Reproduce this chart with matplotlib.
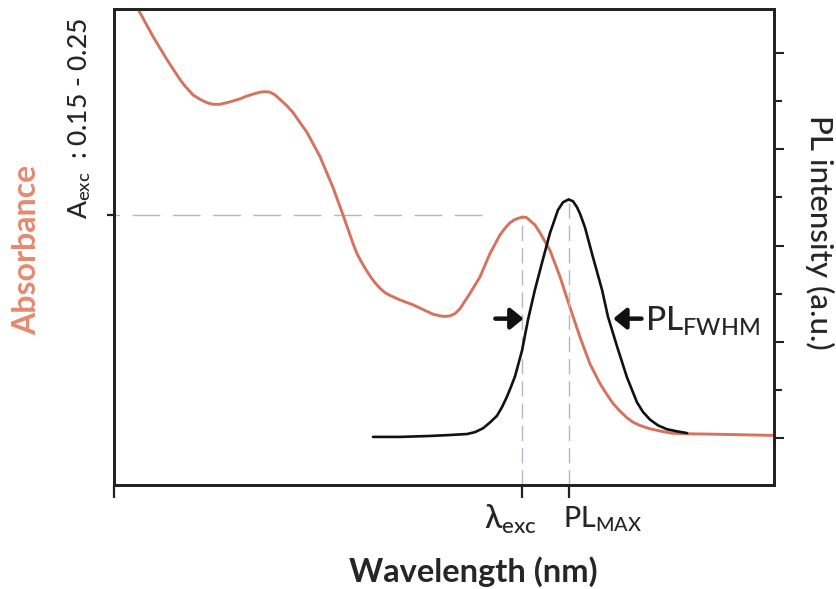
import matplotlib
matplotlib.use('Agg')
import matplotlib.pyplot as plt
import numpy as np
from matplotlib.ticker import MultipleLocator, NullFormatter, FixedLocator

plt.rcParams['font.family'] = ['Lato', 'DejaVu Sans']
plt.rcParams['mathtext.fontset'] = 'custom'
plt.rcParams['mathtext.rm'] = 'Lato:medium'
plt.rcParams['mathtext.it'] = 'Lato:italic'
plt.rcParams['mathtext.bf'] = 'Lato:bold'
plt.rcParams['mathtext.fallback'] = 'stixsans'

# ---------------- data ----------------
abs_wl = [375.3, 384.9, 393.8, 402.1, 405.3, 410.4, 414.9, 419.3, 423.2, 427.6,
          432.1, 435.9, 440.4, 444.8, 449.3, 453.1, 456.3, 459.5, 462.7, 465.9,
          470.4, 474.2, 483.1, 491.4, 499.7, 506.1, 512.5, 515.0, 518.2, 520.7,
          523.9, 526.5, 529.7, 532.9, 536.1, 539.2, 542.4, 550.7, 559.7, 563.5,
          567.9, 571.1, 574.3, 577.5, 580.7, 587.1, 593.5, 599.8, 606.2, 609.4,
          612.6, 615.8, 620.0, 622.8, 625.4, 628.5, 631.7, 638.1, 644.5, 650.9,
          657.3, 663.6, 670.0, 674.5, 678.3, 682.8, 687.2, 691.1, 695.5, 701.9,
          708.3, 715.9, 725.5, 746.6, 781.0]
abs_val = [0.387, 0.362, 0.341, 0.323, 0.317, 0.309, 0.305, 0.302, 0.3005, 0.3005,
           0.302, 0.3035, 0.3055, 0.308, 0.310, 0.3115, 0.312, 0.3115, 0.309, 0.305,
           0.299, 0.293, 0.275, 0.253, 0.225, 0.200, 0.174, 0.165, 0.1565, 0.1505,
           0.1435, 0.1385, 0.1335, 0.1295, 0.127, 0.125, 0.123, 0.1185, 0.1125, 0.110,
           0.1085, 0.108, 0.1085, 0.1105, 0.115, 0.129, 0.144, 0.165, 0.182, 0.188,
           0.193, 0.196, 0.198, 0.198, 0.195, 0.191, 0.184, 0.168, 0.144, 0.116,
           0.089, 0.065, 0.047, 0.037, 0.029, 0.022, 0.016, 0.012, 0.009, 0.006,
           0.004, 0.002, 0.0015, 0.001, 0.000]

pl_wl = [525.2, 542.4, 561.6, 574.3, 585.2, 590.3, 595.4, 599.8, 604.3, 607.5,
         610.7, 613.2, 615.8, 620.3, 624.1, 628.5, 633.0, 638.1, 643.2, 646.4,
         650.0, 652.8, 655.3, 657.3, 660.4, 665.5, 671.3, 675.1, 680.9, 687.2,
         693.6, 697.4, 701.9, 707.0, 712.7, 718.5, 725.5]
pl_val = [0.01, 0.01, 0.02, 0.03, 0.04, 0.06, 0.10, 0.16, 0.23, 0.32,
          0.43, 0.53, 0.64, 0.91, 1.23, 1.54, 1.82, 2.13, 2.37, 2.45,
          2.48, 2.46, 2.40, 2.33, 2.19, 1.88, 1.54, 1.26, 0.95, 0.63,
          0.37, 0.27, 0.19, 0.13, 0.09, 0.07, 0.05]

lambda_exc = 620.0
pl_max_wl = 650.0
a_exc = 0.2

x_range = (360, 781)
abs_range = (-0.045, 0.387)
pl_range = (-0.49, 4.46)

# ---------------- styling ----------------
W, H = 836, 589
ORANGE = '#d6735f'
ORANGE_TXT = '#e58a70'
DARK = '#262626'
DASH = '#b4b7c6'
MED = 500

fig = plt.figure(figsize=(W / 100, H / 100), dpi=100)
fig.patch.set_facecolor('white')
ax = fig.add_axes([114 / W, 1 - 485 / H, 660 / W, 476 / H])
ax2 = ax.twinx()

ax.set_xlim(*x_range)
ax.set_ylim(*abs_range)
ax2.set_ylim(*pl_range)

# curves
ax.plot(abs_wl, abs_val, color=ORANGE, lw=2.1, solid_capstyle='round',
        solid_joinstyle='round', zorder=3)
ax2.plot(pl_wl, pl_val, color='#111111', lw=1.9, solid_capstyle='round',
         solid_joinstyle='round', zorder=3)

# dashed guide lines
ax.plot([x_range[0], 600], [a_exc, a_exc], color=DASH, lw=1.0,
        linestyle=(-13, (20, 9)))
ax.plot([lambda_exc, lambda_exc], [abs_range[0], a_exc], color=DASH, lw=1.0,
        linestyle=(0, (11, 5)))
pl_peak = max(pl_val)
ax2.plot([pl_max_wl, pl_max_wl], [pl_range[0], pl_peak], color=DASH, lw=1.0,
         linestyle=(0, (11, 5)))

# FWHM arrows
half = pl_peak / 2
ipk = int(np.argmax(pl_val))
left_cross = np.interp(half, pl_val[:ipk + 1], pl_wl[:ipk + 1])
right_cross = np.interp(half, pl_val[ipk:][::-1], pl_wl[ipk:][::-1])
gap, alen = 3.0, 18.0
aprops = dict(arrowstyle='-|>,head_length=0.55,head_width=0.45', lw=3.2,
              color='#111111', mutation_scale=14, shrinkA=0, shrinkB=0)
ax2.annotate('', xy=(left_cross - gap, half), xytext=(left_cross - gap - alen, half),
             arrowprops=aprops)
ax2.annotate('', xy=(right_cross + gap, half), xytext=(right_cross + gap + alen, half),
             arrowprops=aprops)

# spines & ticks
for a in (ax, ax2):
    for s in a.spines.values():
        s.set_linewidth(2.0)
        s.set_color('#222222')

ax.xaxis.set_major_locator(FixedLocator([x_range[0], lambda_exc, pl_max_wl]))
ax.xaxis.set_major_formatter(NullFormatter())
ax.tick_params(axis='x', direction='out', length=9, width=1.6, color='#222222')
ax.yaxis.set_major_locator(FixedLocator([a_exc]))
ax.yaxis.set_major_formatter(NullFormatter())
ax.tick_params(axis='y', direction='out', length=5, width=1.6, color='#222222')

ax2.yaxis.set_major_locator(MultipleLocator(1))
ax2.yaxis.set_minor_locator(MultipleLocator(0.5))
ax2.yaxis.set_major_formatter(NullFormatter())
ax2.yaxis.set_minor_formatter(NullFormatter())
ax2.tick_params(axis='y', which='major', direction='out', length=7.5, width=1.5, color='#222222')
ax2.tick_params(axis='y', which='minor', direction='out', length=6, width=1.5, color='#222222')

# ---------------- text ----------------
def fp(x, y):
    return (x / W, 1 - y / H)

fig.text(*fp(473, 572), 'Wavelength (nm)', ha='center', va='center',
         fontsize=23.5, fontweight='bold', color=DARK)
fig.text(*fp(510, 519), r'λ$_{\mathrm{exc}}$', ha='center', va='center',
         fontsize=23, fontweight=MED, color=DARK)
fig.text(*fp(603, 519), r'PL$_{\mathrm{MAX}}$', ha='center', va='center',
         fontsize=20.5, fontweight=MED, color=DARK)
fig.text(*fp(645, 321), r'PL$_{\mathrm{FWHM}}$', ha='left', va='center',
         fontsize=24, fontweight=MED, color=DARK)
fig.text(*fp(27, 250), 'Absorbance', ha='center', va='center', rotation=90,
         fontsize=23, fontweight='bold', color=ORANGE_TXT)
fig.text(*fp(80, 118), r'A$_{\mathrm{exc}}$  : 0.15 - 0.25', ha='center', va='center',
         rotation=90, fontsize=19, fontweight=MED, color=DARK)
fig.text(*fp(820, 232), 'PL intensity (a.u.)', ha='center', va='center', rotation=270,
         fontsize=22.5, fontweight=MED, color=DARK)

fig.savefig('out.png', dpi=100, facecolor='white')
